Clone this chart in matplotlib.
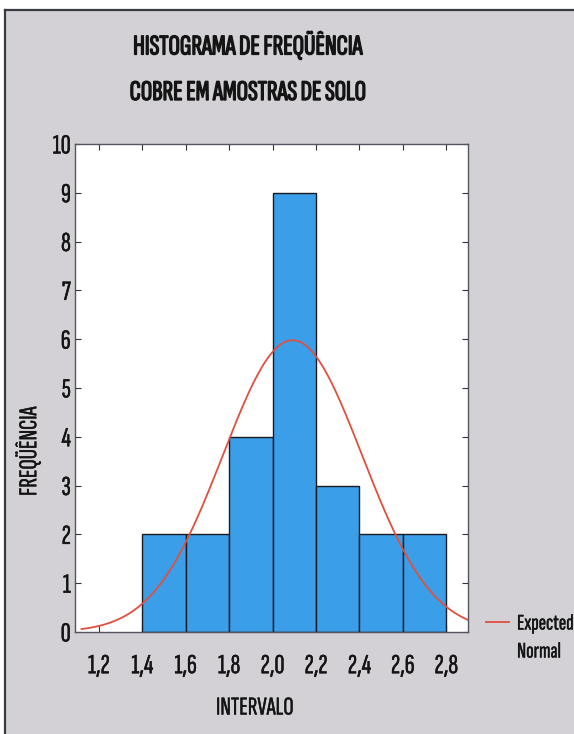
import numpy as np
import matplotlib
matplotlib.use("Agg")
import matplotlib.pyplot as plt
import matplotlib.patheffects as pe
from matplotlib.patches import Rectangle
from matplotlib.lines import Line2D

# Copper content in soil samples: class limits and counts per class
bin_edges = [1.4, 1.6, 1.8, 2.0, 2.2, 2.4, 2.6, 2.8]
counts = [2, 2, 4, 9, 3, 2, 2]
x_ticks = [1.2, 1.4, 1.6, 1.8, 2.0, 2.2, 2.4, 2.6, 2.8]
x_tick_labels = ["1,2", "1,4", "1,6", "1,8", "2,0", "2,2", "2,4", "2,6", "2,8"]
y_ticks = list(range(0, 11))

title_lines = ["HISTOGRAMA DE FREQÜÊNCIA", "COBRE EM AMOSTRAS DE SOLO"]
x_label = "INTERVALO"
y_label = "FREQÜÊNCIA"
legend_lines = ["Expected", "Normal"]

FONT = ["Sofia Sans Extra Condensed", "Archivo Narrow", "DejaVu Sans"]
plt.rcParams["font.family"] = FONT

BG = "#d3d1d5"
BAR = "#3a9fe8"
CURVE = "#e0503f"
INK = "#141414"

heavy = [pe.withStroke(linewidth=1.0, foreground=INK)]
light = [pe.withStroke(linewidth=0.3, foreground=INK)]

W, H = 574, 734
fig = plt.figure(figsize=(W / 100, H / 100), dpi=100, facecolor="white")

# Grey panel with a dark frame on its top and left edges
fig.patches.append(Rectangle((5 / W, 0), 1 - 5 / W, 1 - 10 / H,
                             transform=fig.transFigure, facecolor=BG,
                             edgecolor="none", zorder=-10))
fig.lines.append(Line2D([5 / W, 1], [1 - 10 / H, 1 - 10 / H],
                        transform=fig.transFigure, color="#3a3a44", lw=1.6))
fig.lines.append(Line2D([5 / W, 5 / W], [0, 1 - 10 / H],
                        transform=fig.transFigure, color="#3a3a44", lw=1.6))

left, right, top, bottom = 75 / W, 468 / W, 1 - 144 / H, 1 - 632 / H
ax = fig.add_axes([left, bottom, right - left, top - bottom])
ax.set_facecolor("white")

edges = np.array(bin_edges)
widths = np.diff(edges)
ax.bar(edges[:-1], counts, width=widths, align="edge", color=BAR,
       edgecolor="#1a1a22", linewidth=1.0, zorder=2)

# Expected normal curve fitted to the grouped data
mids = (edges[:-1] + edges[1:]) / 2
n = np.sum(counts)
mean = np.sum(mids * np.array(counts)) / n
sd = np.sqrt(np.sum(np.array(counts) * (mids - mean) ** 2) / (n - 1))
xs = np.linspace(1.12, 2.9, 300)
ys = n * widths[0] * np.exp(-0.5 * ((xs - mean) / sd) ** 2) / (sd * np.sqrt(2 * np.pi))
ax.plot(xs, ys, color=CURVE, lw=1.3, zorder=3)

ax.set_xlim(1.09, 2.90)
ax.set_ylim(0, 10)
ax.set_xticks(x_ticks)
ax.set_xticklabels(x_tick_labels)
ax.set_yticks(y_ticks)
ax.tick_params(direction="in", length=4, width=0.8, color="#333333",
               top=True, right=True, labelsize=20, labelcolor=INK)
ax.tick_params(axis="x", pad=16)
ax.tick_params(axis="y", pad=3)
for lbl in ax.get_xticklabels() + ax.get_yticklabels():
    lbl.set_path_effects(light)
for s in ax.spines.values():
    s.set_color("#555560")
    s.set_linewidth(1.0)

fig.text(248 / W, 1 - 45 / H, title_lines[0], ha="center", va="center",
         fontsize=20.5, color=INK, path_effects=heavy)
fig.text(248 / W, 1 - 93 / H, title_lines[1], ha="center", va="center",
         fontsize=20.5, color=INK, path_effects=heavy)
fig.text(255 / W, 1 - 708 / H, x_label, ha="center", va="center",
         fontsize=18.5, color=INK, path_effects=light)
fig.text(28 / W, 1 - 451 / H, y_label, ha="center", va="center",
         rotation=90, fontsize=18.5, color=INK, path_effects=light)

# Legend entry for the expected normal curve
fig.lines.append(Line2D([486 / W, 509 / W], [1 - 622 / H, 1 - 622 / H],
                        transform=fig.transFigure, color=CURVE, lw=1.3))
fig.text(517 / W, 1 - 624 / H, legend_lines[0], ha="left", va="center",
         fontsize=16, color=INK, path_effects=light)
fig.text(517 / W, 1 - 652 / H, legend_lines[1], ha="left", va="center",
         fontsize=16, color=INK, path_effects=light)

fig.savefig("out.png", dpi=100, facecolor=fig.get_facecolor())
